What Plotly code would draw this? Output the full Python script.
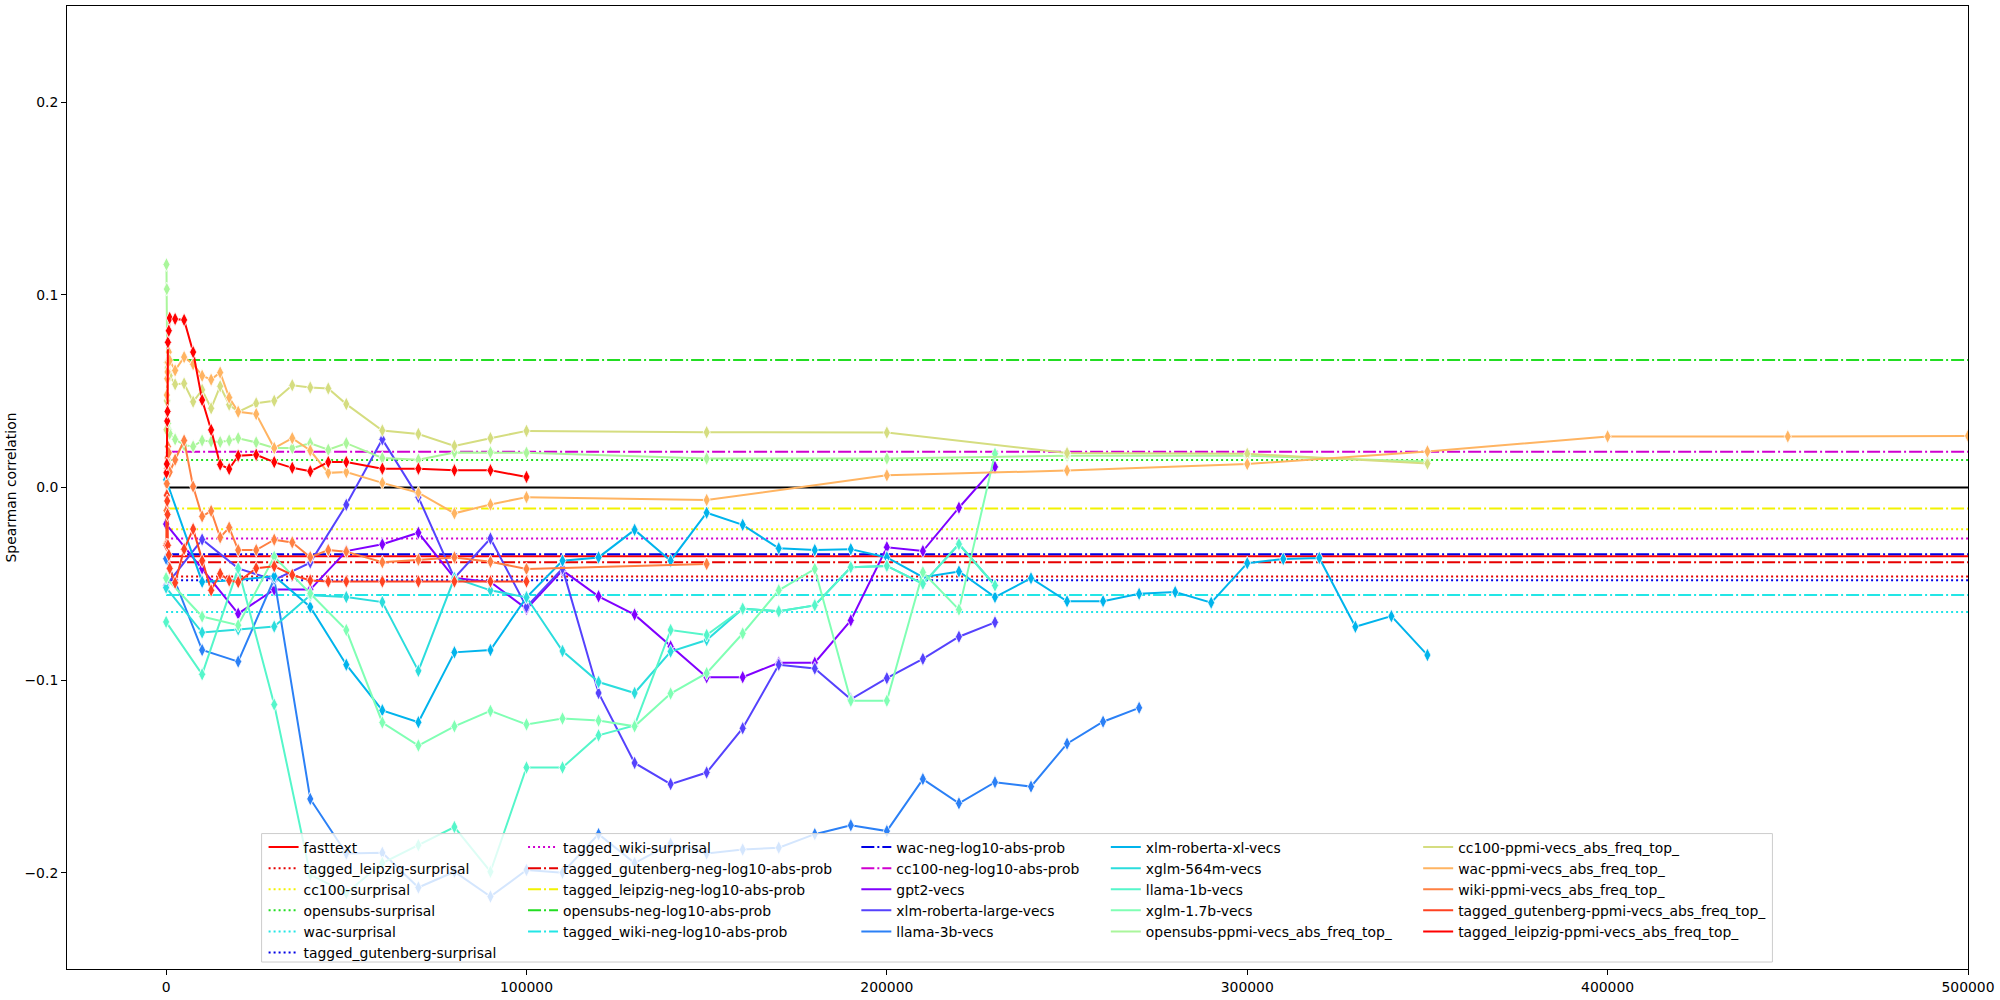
import plotly.graph_objects as go

# ---------------- data ----------------
# horizontal reference measures (constant correlations)
HL_NAMES = ["fasttext", "tagged_leipzig-surprisal", "cc100-surprisal", "opensubs-surprisal",
            "wac-surprisal", "tagged_gutenberg-surprisal", "tagged_wiki-surprisal",
            "tagged_gutenberg-neg-log10-abs-prob", "tagged_leipzig-neg-log10-abs-prob",
            "opensubs-neg-log10-abs-prob", "tagged_wiki-neg-log10-abs-prob",
            "wac-neg-log10-abs-prob", "cc100-neg-log10-abs-prob"]
HL_VALUES = [-0.0357, -0.0462, -0.0217, 0.0143, -0.0646, -0.0481, -0.0265,
             -0.0388, -0.0109, 0.0662, -0.0558, -0.0346, 0.0186]
HL_COLORS = ["#ff0000", "#e60000", "#f2f200", "#22dd22", "#22e6e6", "#0000e6", "#d000d0",
             "#e60000", "#f2f200", "#22dd22", "#22e6e6", "#0000e6", "#d000d0"]
HL_STYLE = ["solid", "dot", "dot", "dot", "dot", "dot", "dot",
            "dashdot", "dashdot", "dashdot", "dashdot", "dashdot", "dashdot"]
HL_X = [0, 500000]

# model vector series, sampled every 10000 words
VEC_X = [0, 10000, 20000, 30000, 40000, 50000, 60000, 70000, 80000, 90000, 100000,
         110000, 120000, 130000, 140000, 150000, 160000, 170000, 180000, 190000, 200000,
         210000, 220000, 230000, 240000, 250000, 260000, 270000, 280000, 290000, 300000,
         310000, 320000, 330000, 340000, 350000]
gpt2 = [-0.019, -0.042, -0.0655, -0.053, -0.053, -0.033, -0.0295, -0.0235, -0.047, -0.049,
        -0.063, -0.043, -0.0565, -0.066, -0.0825, -0.0985, -0.0985, -0.091, -0.091, -0.069,
        -0.031, -0.033, -0.0105, 0.0107]
xlm_r_large = [-0.051, -0.027, -0.042, -0.048, -0.039, -0.009, 0.025, -0.005, -0.047, -0.0265,
               -0.062, -0.042, -0.1067, -0.143, -0.154, -0.148, -0.125, -0.092, -0.094, -0.11,
               -0.099, -0.089, -0.0775, -0.070]
llama_3b = [-0.037, -0.0844, -0.0904, -0.0474, -0.1617, -0.190, -0.1897, -0.2077, -0.1995,
            -0.2124, -0.1986, -0.200, -0.180, -0.195, -0.185, -0.190, -0.188, -0.187, -0.180,
            -0.1754, -0.1784, -0.1514, -0.164, -0.153, -0.1553, -0.133, -0.1216, -0.1144]
xlm_r_xl = [0.004, -0.049, -0.048, -0.046, -0.062, -0.092, -0.1157, -0.1219, -0.0856, -0.0844,
            -0.057, -0.038, -0.0363, -0.022, -0.038, -0.0131, -0.0194, -0.0316, -0.0325, -0.032,
            -0.0363, -0.0466, -0.0436, -0.0569, -0.0471, -0.0591, -0.059, -0.0552, -0.0543,
            -0.0598, -0.0393, -0.0371, -0.0366, -0.0723, -0.0668, -0.087]
xglm_564m = [-0.052, -0.0753, -0.0737, -0.0722, -0.056, -0.0569, -0.0595, -0.0952, -0.047,
             -0.0534, -0.057, -0.0849, -0.101, -0.1067, -0.0852, -0.0792, -0.0629, -0.0643,
             -0.0612, -0.0414, -0.0407, -0.050, -0.0294, -0.0509]
llama_1b = [-0.0698, -0.097, -0.042, -0.1127, -0.201, -0.2106, -0.195, -0.1857, -0.1763,
            -0.1995, -0.1454, -0.1454, -0.1287, -0.1235, -0.074, -0.0766, -0.0629, -0.0643,
            -0.0612, -0.0414, -0.0407, -0.050, -0.0294, -0.0509]
xglm_17b = [-0.047, -0.067, -0.0715, -0.036, -0.055, -0.074, -0.122, -0.134, -0.124, -0.116,
            -0.123, -0.120, -0.121, -0.124, -0.107, -0.0964, -0.0758, -0.0534, -0.0423, -0.1107,
            -0.1107, -0.044, -0.0634, 0.0175]

# PPMI vector series, sampled at growing vocabulary sizes
PPMI_X = [100, 200, 300, 400, 500, 750, 1000, 2500, 5000, 7500, 10000, 12500, 15000, 17500,
          20000, 25000, 30000, 35000, 40000, 45000, 50000, 60000, 70000, 80000, 90000, 100000,
          150000, 200000, 250000, 300000, 350000, 400000, 450000, 500000]
opensubs_ppmi = [0.1158, 0.103, 0.065, 0.045, 0.0333, 0.030, 0.028, 0.025, 0.022, 0.0213,
                 0.0244, 0.0239, 0.0236, 0.0244, 0.0256, 0.0234, 0.0205, 0.0205, 0.023, 0.0196,
                 0.023, 0.0153, 0.0144, 0.0182, 0.0182, 0.018, 0.015, 0.015, 0.0165, 0.0165,
                 0.0135]
cc100_ppmi = [0.030, 0.045, 0.065, 0.062, 0.057, 0.060, 0.058, 0.0536, 0.054, 0.0445, 0.0507,
              0.0411, 0.0526, 0.043, 0.0393, 0.0437, 0.045, 0.0531, 0.0519, 0.0514, 0.0433,
              0.0296, 0.0278, 0.0216, 0.0256, 0.0294, 0.0287, 0.0285, 0.0179, 0.0175, 0.0124]
wac_ppmi = [-0.029, 0.048, 0.0565, 0.060, 0.065, 0.0703, 0.066, 0.0608, 0.0677, 0.064, 0.058,
            0.056, 0.0597, 0.0467, 0.0393, 0.0381, 0.0205, 0.0256, 0.0192, 0.0076, 0.008,
            0.0024, -0.0027, -0.0134, -0.0088, -0.005, -0.0065, 0.0063, 0.0088, 0.0122, 0.0187,
            0.0265, 0.0265, 0.0268]
wiki_ppmi = [-0.012, 0.002, 0.010, 0.0153, 0.0213, 0.018, 0.008, 0.0144, 0.0244, 0.0005, -0.015,
             -0.0122, -0.0259, -0.0208, -0.0325, -0.0325, -0.0271, -0.0285, -0.0362, -0.0325,
             -0.0333, -0.0388, -0.0375, -0.0363, -0.0385, -0.0423, -0.0397]
gutenberg_ppmi = [-0.030, -0.004, -0.007, -0.014, -0.030, -0.035, -0.042, -0.0495, -0.032,
                  -0.0216, -0.038, -0.0534, -0.0448, -0.0483, -0.0491, -0.0419, -0.0409,
                  -0.0454, -0.0483, -0.0488, -0.0488, -0.0488, -0.0488, -0.0488, -0.0488,
                  -0.0488]
leipzig_ppmi = [0.0076, 0.0122, 0.0345, 0.0395, 0.0754, 0.0814, 0.088, 0.0875, 0.087, 0.0703,
                0.0454, 0.0299, 0.0119, 0.0096, 0.0165, 0.017, 0.0132, 0.0102, 0.0084, 0.0132,
                0.0132, 0.0098, 0.0098, 0.0089, 0.0089, 0.0055]

SERIES_NAMES = ["gpt2-vecs", "xlm-roberta-large-vecs", "llama-3b-vecs", "xlm-roberta-xl-vecs",
                "xglm-564m-vecs", "llama-1b-vecs", "xglm-1.7b-vecs",
                "opensubs-ppmi-vecs_abs_freq_top_", "cc100-ppmi-vecs_abs_freq_top_",
                "wac-ppmi-vecs_abs_freq_top_", "wiki-ppmi-vecs_abs_freq_top_",
                "tagged_gutenberg-ppmi-vecs_abs_freq_top_", "tagged_leipzig-ppmi-vecs_abs_freq_top_"]
SERIES_VALUES = [gpt2, xlm_r_large, llama_3b, xlm_r_xl, xglm_564m, llama_1b, xglm_17b,
                 opensubs_ppmi, cc100_ppmi, wac_ppmi, wiki_ppmi, gutenberg_ppmi, leipzig_ppmi]
SERIES_XGRID = ["vec"] * 7 + ["ppmi"] * 6
SERIES_COLORS = ["#8000ff", "#5542fd", "#2b80f6", "#00b4ec", "#2bdddd", "#55f6ca", "#80ffb4",
                 "#aaf69b", "#d5dd80", "#ffb462", "#ff8042", "#ff4221", "#ff0000"]

LEGEND_COLUMNS = [
    ["fasttext", "tagged_leipzig-surprisal", "cc100-surprisal", "opensubs-surprisal",
     "wac-surprisal", "tagged_gutenberg-surprisal"],
    ["tagged_wiki-surprisal", "tagged_gutenberg-neg-log10-abs-prob",
     "tagged_leipzig-neg-log10-abs-prob", "opensubs-neg-log10-abs-prob",
     "tagged_wiki-neg-log10-abs-prob"],
    ["wac-neg-log10-abs-prob", "cc100-neg-log10-abs-prob", "gpt2-vecs",
     "xlm-roberta-large-vecs", "llama-3b-vecs"],
    ["xlm-roberta-xl-vecs", "xglm-564m-vecs", "llama-1b-vecs", "xglm-1.7b-vecs",
     "opensubs-ppmi-vecs_abs_freq_top_"],
    ["cc100-ppmi-vecs_abs_freq_top_", "wac-ppmi-vecs_abs_freq_top_",
     "wiki-ppmi-vecs_abs_freq_top_", "tagged_gutenberg-ppmi-vecs_abs_freq_top_",
     "tagged_leipzig-ppmi-vecs_abs_freq_top_"],
]

# ---------------- figure ----------------
W, H = 2000, 1000
ML, MR, MT, MB = 67, 28, 5, 28
PW, PH = W - ML - MR, H - MT - MB
FONT = "DejaVu Sans"
FS = 13.9

DASHES = {"solid": "solid", "dot": "2px,3px", "dashdot": "13px,3px,2px,3px"}

fig = go.Figure()

# zero line
fig.add_trace(go.Scatter(x=HL_X, y=[0, 0], mode="lines", line=dict(color="black", width=2),
                         showlegend=False, hoverinfo="skip"))

style = {}
for n, v, c, s in zip(HL_NAMES, HL_VALUES, HL_COLORS, HL_STYLE):
    style[n] = (c, DASHES[s])
    fig.add_trace(go.Scatter(x=HL_X, y=[v, v], mode="lines", name=n,
                             line=dict(color=c, width=2, dash=DASHES[s]), showlegend=False))

for n, vals, grid, c in zip(SERIES_NAMES, SERIES_VALUES, SERIES_XGRID, SERIES_COLORS):
    style[n] = (c, "solid")
    xs = (VEC_X if grid == "vec" else PPMI_X)[:len(vals)]
    fig.add_trace(go.Scatter(x=xs, y=vals, mode="lines+markers", name=n,
                             line=dict(color=c, width=2),
                             marker=dict(symbol="diamond-tall", size=10, color=c,
                                         line=dict(color="white", width=0.8)),
                             showlegend=False))

# legend frame (semi transparent, like matplotlib)
LX0, LX1, LY0, LY1 = 262, 1776, 836, 965
def px2paper_x(px):
    return (px - ML) / PW
def px2paper_y(py):
    return (H - MB - py) / PH

fig.add_shape(type="rect", xref="paper", yref="paper",
              x0=px2paper_x(LX0), x1=px2paper_x(LX1), y0=px2paper_y(LY1), y1=px2paper_y(LY0),
              fillcolor="rgba(255,255,255,0.8)", line=dict(color="#cccccc", width=1),
              layer="above")

COL_TEXT_X = [306, 566, 900, 1150, 1463]
legend_layouts = {}
for k, (col, tx) in enumerate(zip(LEGEND_COLUMNS, COL_TEXT_X)):
    lname = "legend" if k == 0 else f"legend{k+1}"
    for n in col:
        c, d = style[n]
        fig.add_trace(go.Scatter(x=[None], y=[None], mode="lines", name=n,
                                 line=dict(color=c, width=2, dash=d), legend=lname,
                                 showlegend=True, hoverinfo="skip"))
    legend_layouts[lname] = dict(
        x=px2paper_x(tx - 42), y=px2paper_y(LY0 - 2), xanchor="left", yanchor="top",
        bgcolor="rgba(0,0,0,0)", borderwidth=0, orientation="v", traceorder="normal",
        font=dict(family=FONT, size=FS, color="black"), itemwidth=30, tracegroupgap=0)

fig.update_layout(
    width=W, height=H,
    margin=dict(l=ML, r=MR, t=MT, b=MB, pad=0),
    paper_bgcolor="white", plot_bgcolor="white",
    font=dict(family=FONT, size=FS, color="black"),
    **legend_layouts,
)

fig.update_xaxes(range=[-27500, 500000], tickvals=[0, 100000, 200000, 300000, 400000, 500000],
                 ticktext=["0", "100000", "200000", "300000", "400000", "500000"],
                 showline=True, mirror=True, linecolor="black", linewidth=1,
                 ticks="outside", ticklen=5, tickwidth=1, tickcolor="black",
                 showgrid=False, zeroline=False, tickfont=dict(family=FONT, size=FS))
fig.update_yaxes(range=[-0.25, 0.25], tickvals=[-0.2, -0.1, 0.0, 0.1, 0.2],
                 ticktext=["\u22120.2", "\u22120.1", "0.0", "0.1", "0.2"],
                 showline=True, mirror=True, linecolor="black", linewidth=1,
                 ticks="outside", ticklen=5, tickwidth=1, tickcolor="black",
                 showgrid=False, zeroline=False, tickfont=dict(family=FONT, size=FS),
                 title=dict(text="Spearman correlation", font=dict(family=FONT, size=FS),
                            standoff=4))

fig.write_html("out.html", include_plotlyjs=True, config={"displayModeBar": False},
               post_script="document.body.style.margin='0';")
